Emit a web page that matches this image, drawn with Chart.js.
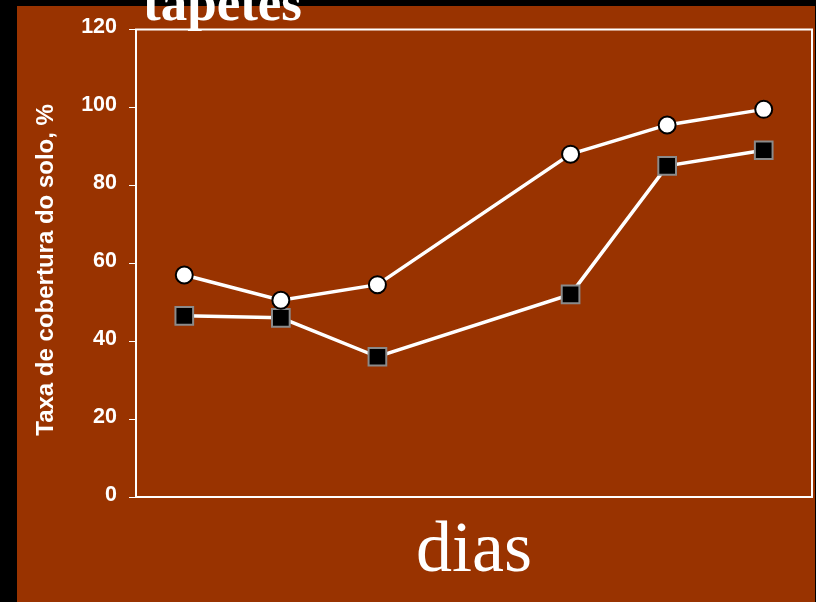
<!DOCTYPE html>
<html>
<head>
<meta charset="utf-8">
<script src="https://cdn.jsdelivr.net/npm/chart.js@4/dist/chart.umd.min.js"></script>
<style>
  html, body { margin: 0; padding: 0; background: #000; }
  #wrap { width: 816px; height: 602px; }
</style>
</head>
<body>
<div id="wrap"><canvas id="chart" width="816" height="602"></canvas></div>
<script>
// Soil cover rate over days, two mat treatments
const dias = [1, 2, 3, 5, 6, 7];
const serieCirculos = [57, 50.5, 54.5, 88, 95.5, 99.5];
const serieQuadrados = [46.5, 46, 36, 52, 85, 89];
const yTicks = [0, 20, 40, 60, 80, 100, 120];
const tituloTopo = 'tapetes';
const tituloY = 'Taxa de cobertura do solo, %';
const tituloX = 'dias';

const BROWN = '#993300';

const pontos = (vals) => dias.map((d, i) => ({ x: d, y: vals[i] }));

// Slide background, plot frame and heading
const slidePlugin = {
  id: 'slide',
  beforeDraw(chart) {
    const { ctx, width, height } = chart;
    ctx.save();
    ctx.fillStyle = '#000';
    ctx.fillRect(0, 0, width, height);
    ctx.fillStyle = BROWN;
    ctx.fillRect(17, 6, 798, height - 6);
    ctx.restore();
  },
  beforeDatasetsDraw(chart) {
    const { ctx, chartArea: a } = chart;
    ctx.save();
    ctx.strokeStyle = '#fff';
    ctx.lineWidth = 2;
    ctx.strokeRect(a.left, a.top, a.right - a.left, a.bottom - a.top);
    ctx.restore();
  },
  afterDraw(chart) {
    const { ctx } = chart;
    ctx.save();
    ctx.fillStyle = '#fff';
    ctx.font = 'bold 53px "Liberation Serif", "Times New Roman", serif';
    ctx.textAlign = 'left';
    ctx.textBaseline = 'alphabetic';
    ctx.fillText(tituloTopo, 143, 20);
    ctx.restore();
  }
};

Chart.defaults.font.family = '"Liberation Sans", Arial, sans-serif';
Chart.defaults.color = '#fff';

new Chart(document.getElementById('chart'), {
  type: 'line',
  data: {
    datasets: [
      {
        data: pontos(serieCirculos),
        borderColor: '#fff',
        borderWidth: 3.5,
        pointStyle: 'circle',
        pointRadius: 8.5,
        pointBackgroundColor: '#fff',
        pointBorderColor: '#000',
        pointBorderWidth: 2,
        tension: 0
      },
      {
        data: pontos(serieQuadrados),
        borderColor: '#fff',
        borderWidth: 3.5,
        pointStyle: 'rect',
        pointRadius: 12.5,
        pointBackgroundColor: '#000',
        pointBorderColor: '#8a8a8a',
        pointBorderWidth: 2,
        tension: 0
      }
    ]
  },
  options: {
    responsive: false,
    animation: false,
    devicePixelRatio: 1,
    layout: { autoPadding: false, padding: { top: 29.5, right: 4, left: 0, bottom: 0 } },
    plugins: {
      legend: { display: false },
      tooltip: { enabled: false },
      title: { display: false }
    },
    scales: {
      x: {
        type: 'linear',
        min: 0.5,
        max: 7.5,
        grid: { display: false },
        border: { display: false },
        ticks: { display: false },
        title: {
          display: true,
          text: tituloX,
          color: '#fff',
          font: { family: '"Liberation Serif", "Times New Roman", serif', size: 72, weight: 'normal', lineHeight: 1 },
          padding: { top: 0, bottom: 14 }
        },
        afterFit(scale) { scale.height = 105; }
      },
      y: {
        type: 'linear',
        min: 0,
        max: 120,
        afterBuildTicks(scale) { scale.ticks = yTicks.map(v => ({ value: v })); },
        grid: {
          drawOnChartArea: false,
          drawTicks: true,
          tickLength: 7,
          tickColor: '#fff',
          color: '#fff',
          lineWidth: 1
        },
        border: { display: false },
        ticks: {
          color: '#fff',
          padding: 12,
          labelOffset: -2,
          font: { size: 21.5, weight: 'bold' }
        },
        title: {
          display: true,
          text: tituloY + '  ',
          color: '#fff',
          font: { size: 24, weight: 'bold' },
          padding: { top: 31.5, bottom: 0 }
        },
        afterFit(scale) { scale.width = 136; }
      }
    }
  },
  plugins: [slidePlugin]
});
</script>
</body>
</html>
